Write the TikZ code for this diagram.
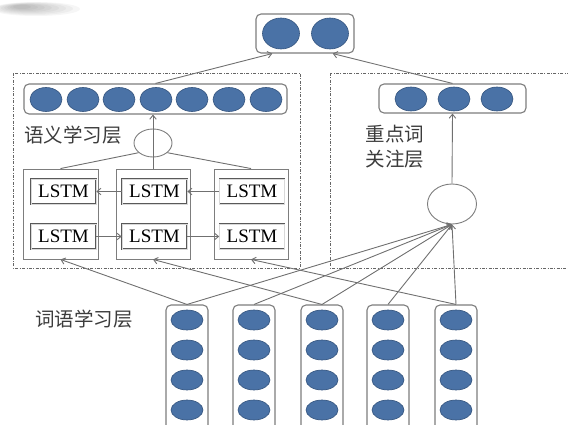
\documentclass[tikz,border=0pt]{standalone}
\usepackage{fontspec}
\setmainfont{Liberation Serif}
\newfontfamily\cjk{Noto Sans CJK SC}
\usetikzlibrary{arrows.meta,calc,shapes.geometric}

\definecolor{nodeblue}{RGB}{74,114,166}
\definecolor{nodeedge}{RGB}{52,84,126}
\definecolor{boxgray}{RGB}{125,125,125}
\definecolor{linegray}{RGB}{112,112,112}
\definecolor{labelgray}{RGB}{60,60,60}

\tikzset{
  unit/.style={ellipse, draw=nodeedge, fill=nodeblue, line width=0.6pt,
    minimum width=32pt, minimum height=24pt, inner sep=0pt},
  wordunit/.style={unit, minimum width=32pt, minimum height=20pt},
  vecbox/.style={rectangle, rounded corners=5pt, draw=boxgray, line width=1.1pt,
    fill=white, inner sep=0pt},
  colbox/.style={rectangle, draw=boxgray, line width=0.9pt, fill=white, inner sep=0pt},
  lstmbox/.style={rectangle, draw=gray!70!black, line width=0.55pt,
    double=gray!30, double distance=0.8pt, fill=white, inner sep=0pt,
    minimum width=65pt, minimum height=25pt,
    font=\fontsize{19}{20}\selectfont},
  joint/.style={ellipse, draw=boxgray, line width=0.9pt, inner sep=0pt},
  layerframe/.style={draw=gray!80!black, line width=0.6pt,
    dash pattern=on 3pt off 1.5pt on 0.8pt off 1.5pt},
  cjklabel/.style={text=labelgray, align=center, inner sep=0pt,
    font=\cjk\fontsize{19.5}{25}\selectfont},
  arr/.style={draw=linegray, line width=0.9pt,
    -{Straight Barb[length=4pt,width=6.5pt]}},
  plain/.style={draw=linegray, line width=0.9pt},
}

\begin{document}
\begin{tikzpicture}[x=1pt,y=-1pt]
\useasboundingbox (0,0) rectangle (568,425);
\clip (0,0) rectangle (568,425);

% faint grey smudge in the top-left corner
\foreach \k in {0,...,7}
  \fill[black,opacity=0.035] ({36-2*\k},{9-0.3*\k}) ellipse [x radius={44-5*\k}, y radius={7-0.7*\k}];

% layer frames
\draw[layerframe] (13,73) rectangle (300,268);
\draw[layerframe] (330,73) rectangle (578,268);

% output vector
\node[vecbox, minimum width=98pt, minimum height=39pt] (outbox) at (305,33.5) {};
\node[unit, minimum width=37pt, minimum height=31pt] (o1) at (281,33.5) {};
\node[unit, minimum width=37pt, minimum height=31pt] (o2) at (330,33.5) {};

% semantic learning layer
\node[vecbox, minimum width=263pt, minimum height=30pt] (semrow) at (155.5,99) {};
\foreach \i/\x in {1/46,2/83,3/119,4/156,5/192,6/229,7/266}
  \node[unit] (s\i) at (\x,99.5) {};
\node[cjklabel] (semlabel) at (73,135) {语义学习层};
\node[joint, minimum width=38pt, minimum height=28pt] (mix) at (153,143) {};

\node[colbox, minimum width=75pt, minimum height=90pt] (c1) at (60.5,214) {};
\node[colbox, minimum width=74pt, minimum height=90pt] (c2) at (153,214) {};
\node[colbox, minimum width=74pt, minimum height=90pt] (c3) at (251,214) {};
\node[lstmbox] (f1) at (63.5,191.5) {LSTM};
\node[lstmbox] (f2) at (154.5,191.5) {LSTM};
\node[lstmbox] (f3) at (252,191.5) {LSTM};
\node[lstmbox] (b1) at (63.5,236.5) {LSTM};
\node[lstmbox] (b2) at (154.5,236.5) {LSTM};
\node[lstmbox] (b3) at (252,236.5) {LSTM};

% key-word attention layer
\node[vecbox, minimum width=147pt, minimum height=29pt] (keyrow) at (452.5,98.5) {};
\foreach \i/\x in {1/411,2/454,3/497}
  \node[unit] (k\i) at (\x,99) {};
\node[cjklabel] (keylabel) at (395,147) {重点词\\关注层};
\node[joint, fill=white, minimum width=49pt, minimum height=40pt] (att) at (452,204) {};

% word learning layer
\node[cjklabel] (wordlabel) at (84,319) {词语学习层};
\foreach \i/\x in {1/187,2/254,3/322,4/388,5/456} {
  \node[vecbox, minimum width=42pt, minimum height=140pt] (w\i) at (\x,375) {};
  \foreach \j/\y in {1/320,2/350,3/380,4/410}
    \node[wordunit] (w\i u\j) at (\x,\y) {};
}

% connectors
\draw[arr] (semrow.north) -- ($(outbox.south west)!0.17!(outbox.south east)$);
\draw[arr] (keyrow.north) -- ($(outbox.south west)!0.78!(outbox.south east)$);
\draw[arr] (c2.north) -- (c2.north |- semrow.south);
\draw[plain] (mix.214) -- (c1.north);
\draw[plain] (mix.326) -- (c3.north);

\draw[arr] (f2.west) -- (f1.east);
\draw[arr] (f3.west) -- (f2.east);
\draw[arr] (b1.east) -- (b2.west);
\draw[arr] (b2.east) -- (b3.west);

\draw[arr] (w1.north) -- (c1.south);
\draw[arr] (w3.north) -- (c2.south);
\draw[arr] (w5.north) -- (c3.south);
\foreach \i in {1,...,5}
  \draw[arr] (w\i.north) -- (att.south);
\draw[arr] (att.north) -- (keyrow.south);
\end{tikzpicture}
\end{document}
